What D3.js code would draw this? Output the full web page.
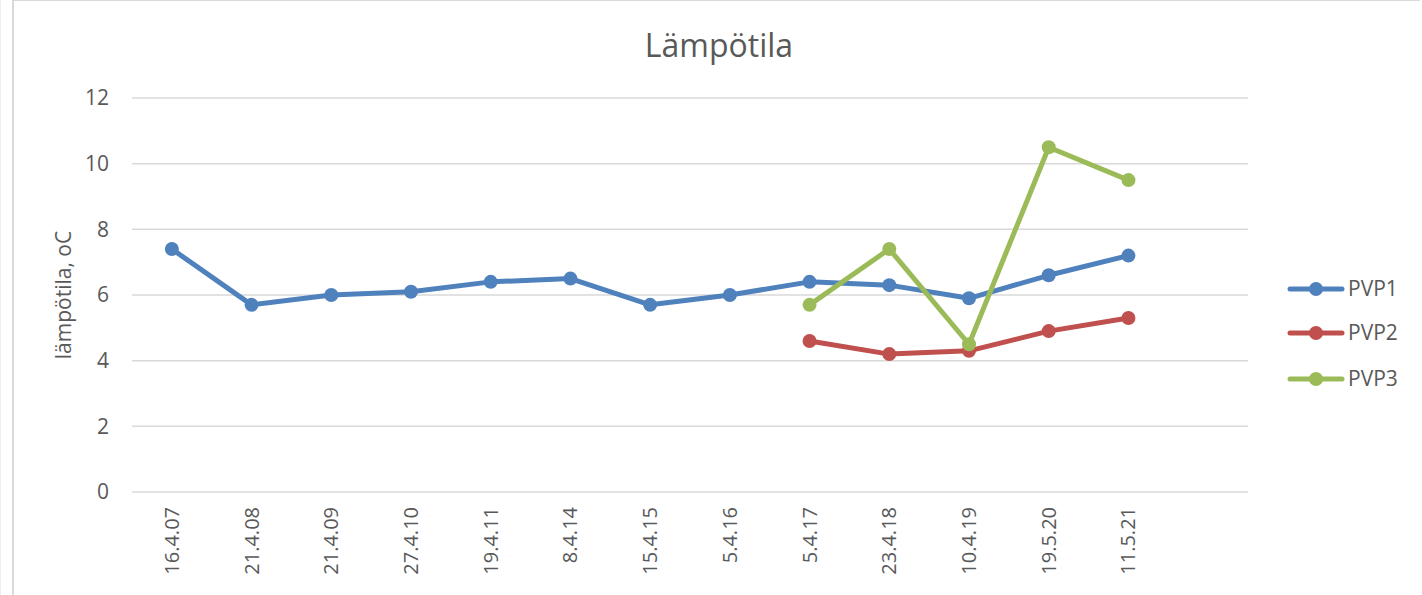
<!DOCTYPE html>
<html>
<head>
<meta charset="utf-8">
<script src="https://cdn.jsdelivr.net/npm/d3@7"></script>
<style>
body { margin: 0; background: #fff; }
svg { display: block; font-family: "Open Sans", sans-serif; }
</style>
</head>
<body>
<svg id="chart" width="1422" height="595"></svg>
<script>
var categories = ["16.4.07", "21.4.08", "21.4.09", "27.4.10", "19.4.11", "8.4.14", "15.4.15", "5.4.16", "5.4.17", "23.4.18", "10.4.19", "19.5.20", "11.5.21", ""];
var pvp1 = [7.4, 5.7, 6.0, 6.1, 6.4, 6.5, 5.7, 6.0, 6.4, 6.3, 5.9, 6.6, 7.2];
var pvp2 = [null, null, null, null, null, null, null, null, 4.6, 4.2, 4.3, 4.9, 5.3];
var pvp3 = [null, null, null, null, null, null, null, null, 5.7, 7.4, 4.5, 10.5, 9.5];
var seriesNames = ["PVP1", "PVP2", "PVP3"];
var seriesColors = ["#4F81BD", "#C0504D", "#9BBB59"];
var yTicks = [0, 2, 4, 6, 8, 10, 12];

var svg = d3.select("#chart");
var plotLeft = 132, plotRight = 1248, plotTop = 98, plotBottom = 492;

// chart border
svg.append("line").attr("x1", 13).attr("y1", 0).attr("x2", 13).attr("y2", 595).attr("stroke", "#D9D9D9").attr("stroke-width", 2);
svg.append("line").attr("x1", 13).attr("y1", 0.5).attr("x2", 1420).attr("y2", 0.5).attr("stroke", "#D9D9D9").attr("stroke-width", 1);
svg.append("line").attr("x1", 0.5).attr("y1", 0).attr("x2", 0.5).attr("y2", 595).attr("stroke", "#EEEEEE").attr("stroke-width", 1);

var x = d3.scaleBand().domain(categories.map(function(d, i){ return i; })).range([plotLeft, plotRight]).padding(0);
var y = d3.scaleLinear().domain([0, 12]).range([plotBottom, plotTop]);
function cx(i){ return x(i) + x.bandwidth() / 2; }

// gridlines
svg.append("g").selectAll("line").data(yTicks).enter().append("line")
	.attr("x1", plotLeft).attr("x2", plotRight)
	.attr("y1", function(d){ return y(d); }).attr("y2", function(d){ return y(d); })
	.attr("stroke", "#D9D9D9").attr("stroke-width", 1.5);

// y tick labels
svg.append("g").selectAll("text").data(yTicks).enter().append("text")
	.attr("x", 109).attr("y", function(d){ return y(d); })
	.attr("dy", "0.35em").attr("text-anchor", "end")
	.attr("font-size", 21).attr("fill", "#595959")
	.text(function(d){ return d; });

// x tick labels
svg.append("g").selectAll("text").data(categories).enter().append("text")
	.attr("transform", function(d, i){ return "translate(" + cx(i) + ",507) rotate(-90)"; })
	.attr("dy", "0.35em").attr("text-anchor", "end")
	.attr("font-size", 20).attr("fill", "#595959")
	.text(function(d){ return d; });

// title
svg.append("text").attr("x", 719).attr("y", 57).attr("text-anchor", "middle")
	.attr("font-size", 32).attr("fill", "#595959").text("Lämpötila");

// y axis title
svg.append("text").attr("transform", "translate(64,295) rotate(-90)")
	.attr("dy", "0.35em").attr("text-anchor", "middle")
	.attr("font-size", 21).attr("fill", "#595959").text("lämpötila, oC");

var allSeries = [pvp1, pvp2, pvp3];
var line = d3.line()
	.defined(function(d){ return d !== null && d !== undefined; })
	.x(function(d, i){ return cx(i); })
	.y(function(d){ return y(d); });

for(var s = 0; s < allSeries.length; s++){
	var data = allSeries[s];
	svg.append("path").datum(data)
		.attr("d", line).attr("fill", "none")
		.attr("stroke", seriesColors[s]).attr("stroke-width", 5)
		.attr("stroke-linejoin", "round").attr("stroke-linecap", "round");
	var pts = [];
	for(var i = 0; i < data.length; i++){
		if(data[i] !== null) pts.push({i: i, v: data[i]});
	}
	svg.append("g").selectAll("circle").data(pts).enter().append("circle")
		.attr("cx", function(d){ return cx(d.i); })
		.attr("cy", function(d){ return y(d.v); })
		.attr("r", 7).attr("fill", seriesColors[s]);
}

// legend
var legendY = [289, 333, 379];
for(var k = 0; k < seriesNames.length; k++){
	var g = svg.append("g");
	g.append("line").attr("x1", 1290).attr("x2", 1342).attr("y1", legendY[k]).attr("y2", legendY[k])
		.attr("stroke", seriesColors[k]).attr("stroke-width", 5).attr("stroke-linecap", "round");
	g.append("circle").attr("cx", 1316).attr("cy", legendY[k]).attr("r", 7).attr("fill", seriesColors[k]);
	g.append("text").attr("x", 1348).attr("y", legendY[k]).attr("dy", "0.35em")
		.attr("font-size", 21).attr("fill", "#595959").text(seriesNames[k]);
}
</script>
</body>
</html>
